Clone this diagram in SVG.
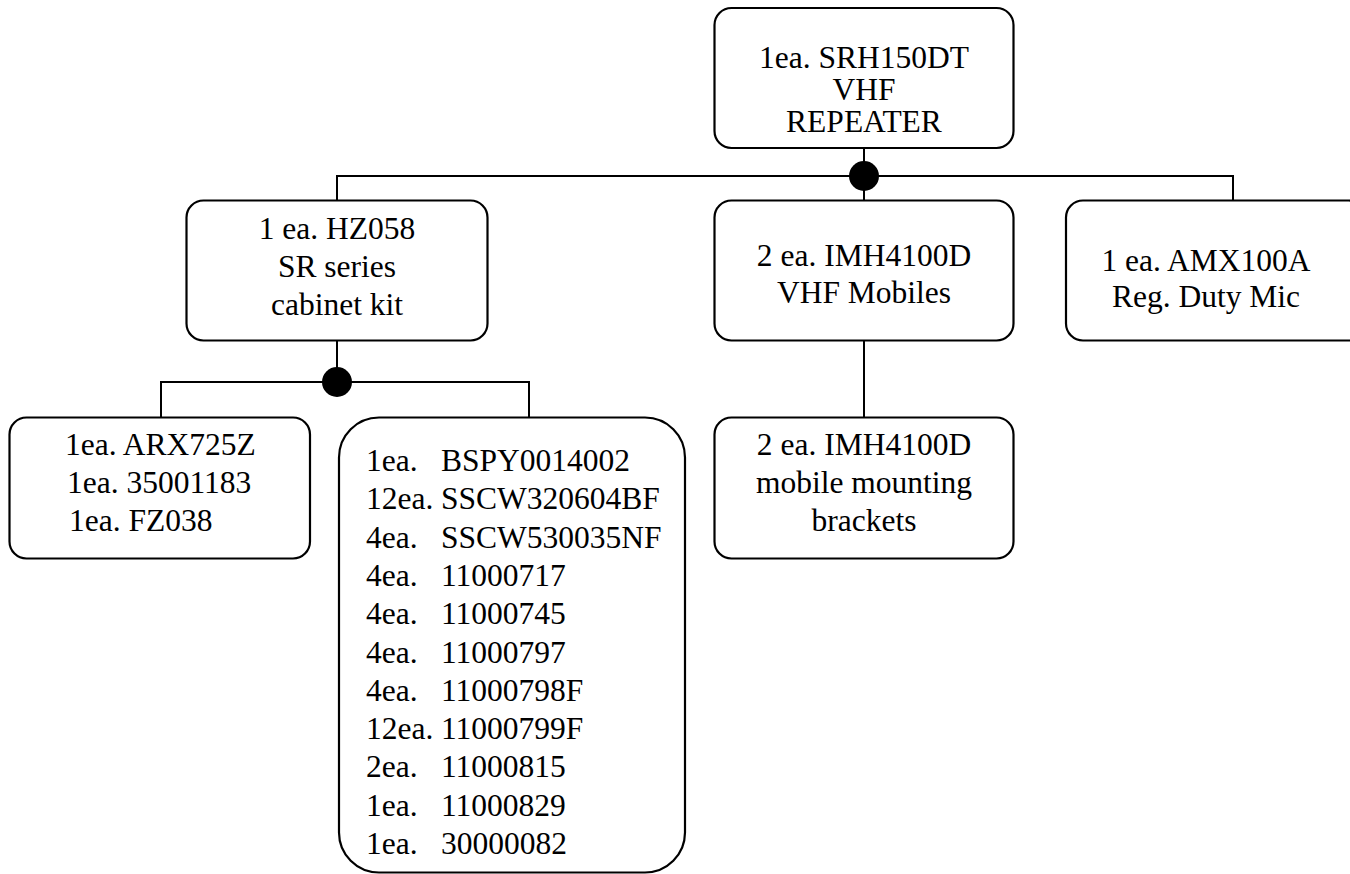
<svg xmlns="http://www.w3.org/2000/svg" width="1350" height="874" viewBox="0 0 1350 874">
  <style>
    .box { fill: #ffffff; stroke: #000000; stroke-width: 2.2; }
    .wire { fill: none; stroke: #000000; stroke-width: 2; }
    .dot { fill: #000000; }
    text { font-family: "Liberation Serif", "Times New Roman", serif; font-size: 31.5px; fill: #000000; }
    .c { text-anchor: middle; }
  </style>
  <rect width="1350" height="874" fill="#ffffff"/>

  <g id="connectors">
    <path class="wire" d="M864 148 V200"/>
    <path class="wire" d="M337 200 V176 H1233 V200"/>
    <circle class="dot" cx="864" cy="176" r="15"/>
    <path class="wire" d="M337 341 V382"/>
    <path class="wire" d="M161 417 V382 H529 V417"/>
    <circle class="dot" cx="337" cy="382" r="15"/>
    <path class="wire" d="M864 341 V417"/>
  </g>

  <g id="node-repeater">
    <rect class="box" x="714.5" y="8" width="299" height="140" rx="17"/>
    <text class="c" x="864" y="68">1ea. SRH150DT</text>
    <text class="c" x="864" y="100">VHF</text>
    <text class="c" x="864" y="132">REPEATER</text>
  </g>

  <g id="node-cabinet">
    <rect class="box" x="186.5" y="200.5" width="301" height="140" rx="17"/>
    <text class="c" x="337" y="239">1 ea. HZ058</text>
    <text class="c" x="337" y="277">SR series</text>
    <text class="c" x="337" y="315">cabinet kit</text>
  </g>

  <g id="node-mobiles">
    <rect class="box" x="714.5" y="200.5" width="299" height="140" rx="17"/>
    <text class="c" x="864" y="266">2 ea. IMH4100D</text>
    <text class="c" x="864" y="303">VHF Mobiles</text>
  </g>

  <g id="node-mic">
    <rect class="box" x="1066" y="200.5" width="300" height="140" rx="17"/>
    <text class="c" x="1206" y="271">1 ea. AMX100A</text>
    <text class="c" x="1206" y="307">Reg. Duty Mic</text>
  </g>

  <g id="node-arx">
    <rect class="box" x="9.5" y="417.5" width="300.5" height="141" rx="17"/>
    <text x="65" y="455">1ea. ARX725Z</text>
    <text x="67" y="493">1ea. 35001183</text>
    <text x="69" y="531">1ea. FZ038</text>
  </g>

  <g id="node-parts">
    <rect class="box" x="339" y="417.5" width="346" height="455" rx="40"/>
    <text x="366" y="471">1ea.</text><text x="441" y="471">BSPY0014002</text>
    <text x="366" y="509.3">12ea.</text><text x="441" y="509.3">SSCW320604BF</text>
    <text x="366" y="547.6">4ea.</text><text x="441" y="547.6">SSCW530035NF</text>
    <text x="366" y="585.9">4ea.</text><text x="441" y="585.9">11000717</text>
    <text x="366" y="624.2">4ea.</text><text x="441" y="624.2">11000745</text>
    <text x="366" y="662.5">4ea.</text><text x="441" y="662.5">11000797</text>
    <text x="366" y="700.8">4ea.</text><text x="441" y="700.8">11000798F</text>
    <text x="366" y="739.1">12ea.</text><text x="441" y="739.1">11000799F</text>
    <text x="366" y="777.4">2ea.</text><text x="441" y="777.4">11000815</text>
    <text x="366" y="815.7">1ea.</text><text x="441" y="815.7">11000829</text>
    <text x="366" y="854">1ea.</text><text x="441" y="854">30000082</text>
  </g>

  <g id="node-brackets">
    <rect class="box" x="714.5" y="417.5" width="299" height="141" rx="17"/>
    <text class="c" x="864" y="455">2 ea. IMH4100D</text>
    <text class="c" x="864" y="493">mobile mounting</text>
    <text class="c" x="864" y="531">brackets</text>
  </g>
</svg>
